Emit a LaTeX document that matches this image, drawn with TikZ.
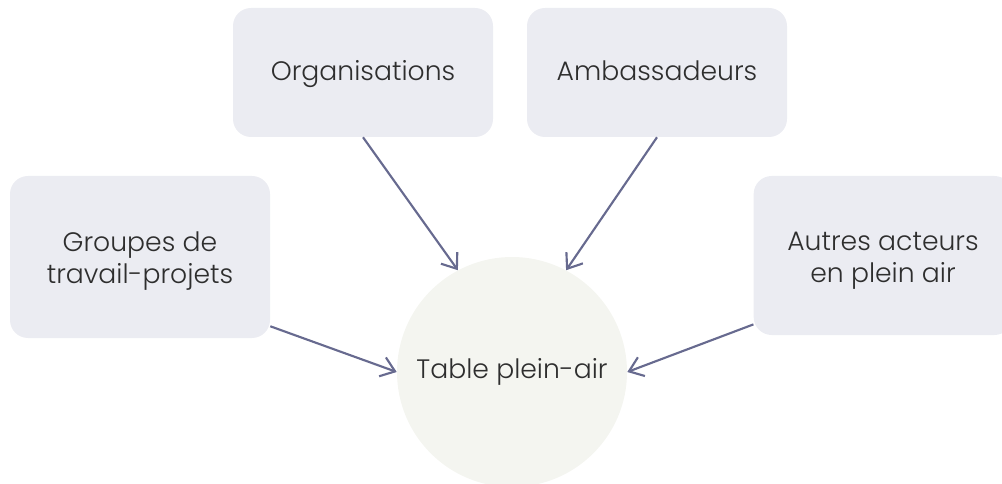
\documentclass[tikz,border=0pt]{standalone}
\usepackage{fontspec}
\setmainfont{Poppins Light}
\usetikzlibrary{arrows.meta}
\definecolor{boxfill}{HTML}{EBECF2}
\definecolor{circfill}{HTML}{F4F5F0}
\definecolor{arrowc}{HTML}{676A8F}
\definecolor{txt}{HTML}{2E2E2E}
\tikzset{
  box/.style={rectangle, rounded corners=13.5pt, fill=boxfill, text=txt,
    align=center, font=\fontsize{20}{24}\selectfont, inner sep=0pt},
  onebox/.style={box, minimum width=195pt, minimum height=96.75pt,
    text height=12.75pt, text depth=0pt},
  hub/.style={circle, fill=circfill, text=txt, minimum size=172.5pt,
    inner sep=0pt, font=\fontsize{20}{24}\selectfont,
    text height=9pt, text depth=0pt},
  link/.style={draw=arrowc, line width=1.6pt,
    -{Straight Barb[length=10pt, width=15pt, line width=1.6pt]}}
}
\begin{document}
\begin{tikzpicture}[x=0.75pt, y=-0.75pt]
\useasboundingbox (0,0) rectangle (1002,484);
\clip (0,0) rectangle (1002,484);
\node[hub] (hub) at (512,372) {Table plein-air};
\node[onebox] (org) at (363,72.5) {Organisations};
\node[onebox] (amb) at (657,72.5) {Ambassadeurs};
\node[box, minimum width=195pt, minimum height=121.5pt,
  text height=40.5pt, text depth=0pt] (grp) at (140,257) {Groupes de\\travail-projets};
\node[box, minimum width=194pt, minimum height=119.25pt,
  text height=41.25pt, text depth=0pt] (aut) at (883,255.5) {Autres acteurs\\en plein air};
\draw[link] (org.south) -- (hub.118.7);
\draw[link] (amb.south) -- (hub.62);
\draw[link] (grp.-28) -- (hub.180);
\draw[link] (aut.208.5) -- (hub.0);
\end{tikzpicture}
\end{document}
